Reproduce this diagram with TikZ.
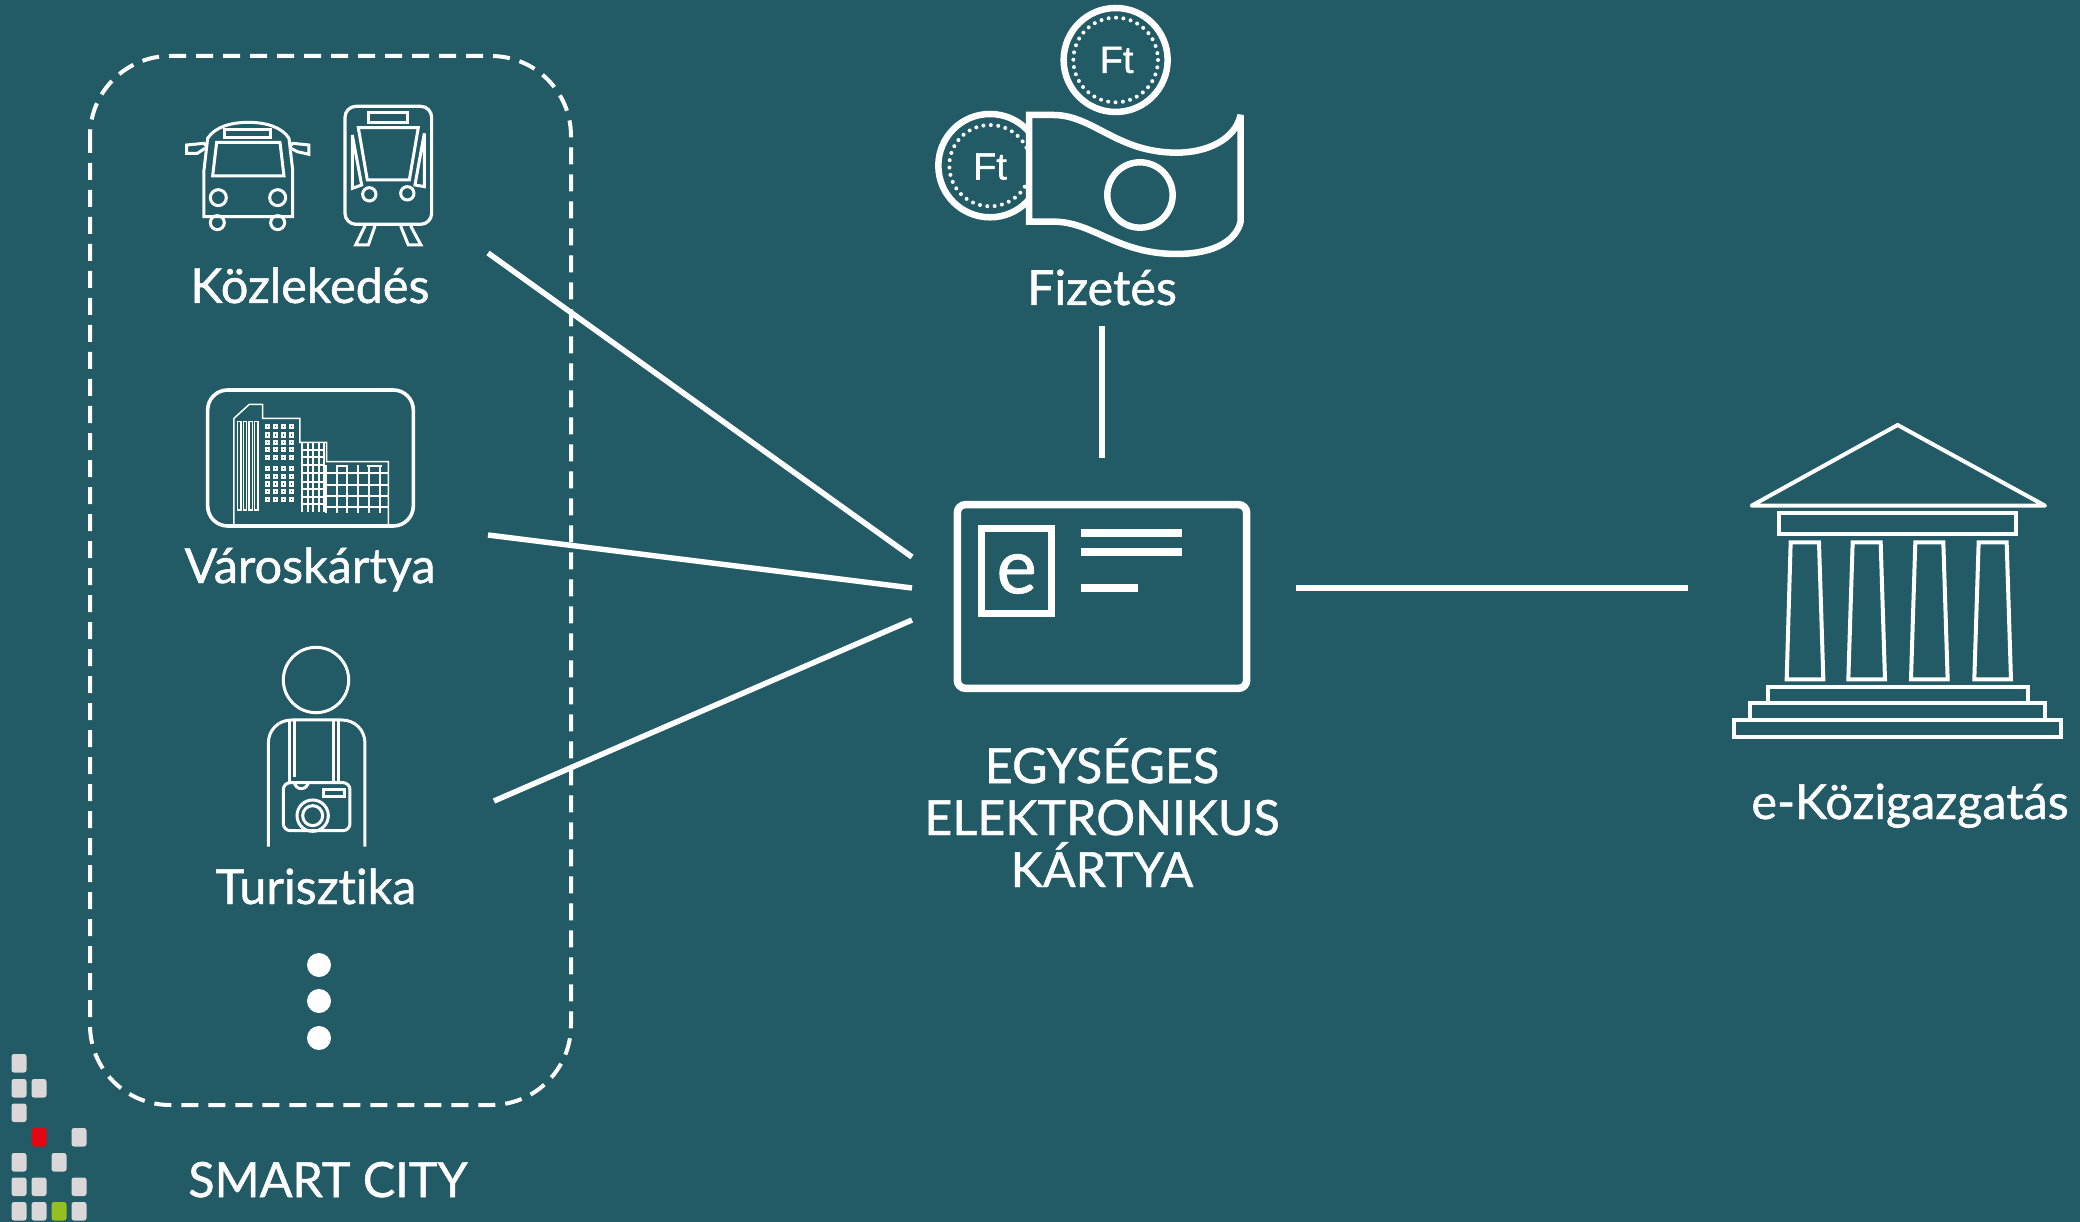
\documentclass[tikz,border=0pt]{standalone}
\usepackage{fontspec}
\setmainfont{Lato}[FakeBold=1,Ligatures=CommonOff]
\newfontfamily\coinfont{Liberation Sans}[FakeBold=1]
\definecolor{bgteal}{RGB}{34,90,102}
\definecolor{logogrey}{RGB}{217,215,215}
\definecolor{logored}{RGB}{227,6,19}
\definecolor{logogreen}{RGB}{149,193,31}
\tikzset{
  linkline/.style={draw=white,line width=5.5pt},
  icon/.style={draw=white,line width=3pt},
  iconthin/.style={draw=white,line width=1.5pt},
  iconthick/.style={draw=white,line width=6.5pt,miter limit=2},
  coindots/.style={draw=white,line width=4pt,dash pattern=on 0pt off 7.4pt,line cap=round},
  label/.style={text=white,anchor=base,font=\fontsize{48.5}{52}\selectfont,align=center,inner sep=0pt},
  cointext/.style={text=white,inner sep=0pt,font=\coinfont\fontsize{38}{38}\selectfont},
  logosq/.style={rounded corners=2.5pt},
}
\begin{document}
\begin{tikzpicture}[x=1pt,y=-1pt]
  \fill[bgteal] (0,0) rectangle (2080,1222);
  \useasboundingbox (0,0) rectangle (2080,1222);

  % smart city frame
  \draw[draw=white,line width=4pt,dash pattern=on 17pt off 10pt,rounded corners=80pt] (90,56) rectangle (571,1105);

  % labels
  \node[label] (kozlekedes) at (310,303) {Közlekedés};
  \node[label] (varoskartya) at (310,583) {Városkártya};
  \node[label] (turisztika) at (316,904) {Turisztika};
  \node[label] (smartcity) at (328,1197) {SMART CITY};
  \node[label] (fizetes) at (1102,305) {Fizetés};
  \node[label] (kartya) at (1102,887) {EGYSÉGES\\ELEKTRONIKUS\\KÁRTYA};
  \node[label] (kozig) at (1910,819) {e-Közigazgatás};

  % connectors
  \coordinate (kozlEnd) at (488,253);
  \coordinate (varosEnd) at (488,535);
  \coordinate (turEnd) at (494,801);
  \coordinate (cardA) at (912,557);
  \coordinate (cardB) at (912,588);
  \coordinate (cardC) at (912,620);
  \coordinate (fizEnd) at (1102,326);
  \coordinate (cardTop) at (1102,458);
  \coordinate (cardRight) at (1296,588);
  \coordinate (templeEnd) at (1688,588);
  \draw[linkline] (kozlEnd) -- (cardA);
  \draw[linkline] (varosEnd) -- (cardB);
  \draw[linkline] (turEnd) -- (cardC);
  \draw[linkline] (fizEnd) -- (cardTop);
  \draw[linkline] (cardRight) -- (templeEnd);

  % dots
  \fill[white] (319,965) circle[radius=12];
  \fill[white] (319,1001) circle[radius=12];
  \fill[white] (319,1038) circle[radius=12];

  % bus and tram
  \begin{scope}[shift={(160,90)},x=0.3333pt,y=-0.3333pt]
    \draw[icon] (132,380) -- (132,240) -- (143,145) .. controls (165,110) and (215,97) .. (265,97) .. controls (315,97) and (365,110) .. (387,145) -- (398,240) -- (398,380) -- cycle;
    \draw[icon] (195,118) rectangle (332,142);
    \draw[icon] (170,157) -- (360,157) -- (372,258) -- (158,258) -- cycle;
    \draw[icon] (175,323) circle[radius=24];
    \draw[icon] (353,323) circle[radius=24];
    \draw[icon] (172,398) circle[radius=21];
    \draw[icon] (353,398) circle[radius=21];
    \draw[icon] (140,170) -- (132,160) -- (80,165) -- (80,190) -- (112,190) -- (135,175);
    \draw[icon] (390,170) -- (398,160) -- (447,165) -- (447,193) -- (412,185) -- (393,175);
    \draw[draw=white,line width=3.2pt,rounded corners=11pt] (555,49) rectangle (815,403);
    \draw[icon] (627,68) rectangle (742,97);
    \draw[icon] (595,113) -- (775,113) -- (748,270) -- (622,270) -- cycle;
    \draw[icon] (577,135) -- (605,285) -- (577,295) -- cycle;
    \draw[icon] (793,130) -- (765,285) -- (793,290) -- cycle;
    \draw[icon] (628,313) circle[radius=20];
    \draw[icon] (742,310) circle[radius=20];
    \draw[icon] (615,408) -- (587,465) -- (625,465) -- (645,408);
    \draw[icon] (722,408) -- (745,465) -- (783,465) -- (752,408);
  \end{scope}

  % city card
  \begin{scope}[shift={(190,370)},x=0.3333pt,y=-0.3333pt]
    \draw[draw=white,line width=3.6pt,rounded corners=20pt] (53,60) rectangle (670,468);
    \draw[iconthin] (132,462) -- (132,145) -- (178,103) -- (218,103) -- (218,145) -- (330,145) -- (330,217) -- (410,217) -- (410,275) -- (595,275) -- (595,462);
    \foreach \sx in {143,160,177,194}
      \draw[iconthin] (\sx,155) rectangle (\sx+10,420);
    \foreach \wx in {232,256,281,305}
      \foreach \wy in {170,195,218,238,263,295,320,342,364,388}
        \draw[draw=white,line width=1.8pt] (\wx-5,\wy-5) rectangle (\wx+5,\wy+5);
    \foreach \mx in {337,353,370,386,403}
      \draw[draw=white,line width=1.9pt] (\mx,217) -- (\mx,425);
    \foreach \my in {240,262,285,310,335,358,380,402}
      \draw[draw=white,line width=1.9pt] (332,\my) -- (405,\my);
    \foreach \rx in {408,440,470,503,537,570}
      \draw[draw=white,line width=2.2pt] (\rx,285) -- (\rx,428);
    \foreach \ry in {310,345,378,410}
      \draw[draw=white,line width=2.2pt] (408,\ry) -- (593,\ry);
    \draw[draw=white,line width=2pt] (437,287) -- (473,287);
    \draw[draw=white,line width=2pt] (530,287) -- (575,287);
  \end{scope}

  % tourist
  \begin{scope}[shift={(250,640)},x=0.3333pt,y=-0.3333pt]
    \draw[icon] (198,120) circle[radius=98];
    \draw[icon] (55,620) -- (55,310) .. controls (55,270) and (85,240) .. (125,240) -- (275,240) .. controls (315,240) and (345,270) .. (345,310) -- (345,620);
    \draw[icon] (120,240) -- (120,425);
    \draw[icon] (135,240) -- (135,410);
    \draw[icon] (250,240) -- (250,425);
    \draw[icon] (265,240) -- (265,425);
    \draw[icon,rounded corners=7pt] (100,428) rectangle (300,572);
    \draw[icon] (133,425) arc[start angle=180,end angle=0,radius=21];
    \draw[icon] (188,527) circle[radius=47];
    \draw[icon] (188,527) circle[radius=30];
    \draw[icon] (222,448) rectangle (283,470);
  \end{scope}

  % coins and note
  \begin{scope}[shift={(920,0)},x=0.3333pt,y=-0.3333pt]
    \draw[iconthick] (587,180) circle[radius=156];
    \draw[coindots] (587,180) circle[radius=127];
    \node[cointext] (ftTop) at (590,180) {Ft};
    \draw[iconthick] (210,497) circle[radius=155];
    \draw[coindots] (210,497) circle[radius=122];
    \node[cointext] (ftLeft) at (210,500) {Ft};
    \draw[iconthick,fill=bgteal] (327,345) -- (400,345) .. controls (520,345) and (590,458) .. (770,458) .. controls (860,458) and (945,420) .. (962,345) -- (962,665) .. controls (945,735) and (860,762) .. (770,762) .. controls (590,762) and (520,665) .. (400,665) -- (327,665) -- cycle;
    \draw[iconthick] (660,585) circle[radius=98];
  \end{scope}

  % e card
  \begin{scope}[shift={(940,490)},x=0.3333pt,y=-0.3333pt]
    \draw[draw=white,line width=7.5pt,rounded corners=8pt] (52,44) rectangle (920,595);
    \draw[draw=white,line width=7.5pt] (125,115) rectangle (335,370);
    \node[text=white,inner sep=0pt,font=\fontsize{76}{76}\selectfont] (eLetter) at (230,252) {e};
    \draw[draw=white,line width=8pt] (422,128) -- (727,128);
    \draw[draw=white,line width=8pt] (422,186) -- (727,186);
    \draw[draw=white,line width=8pt] (422,295) -- (595,295);
  \end{scope}

  % temple
  \begin{scope}[shift={(1720,410)},x=0.3333pt,y=-0.3333pt]
    \draw[draw=white,line width=4pt,line join=round] (533,45) -- (95,287) -- (975,287) -- cycle;
    \draw[draw=white,line width=4pt] (177,310) rectangle (888,373);
    \draw[draw=white,line width=4pt] (212,397) -- (297,397) -- (310,808) -- (200,808) -- cycle;
    \draw[draw=white,line width=4pt] (398,397) -- (482,397) -- (495,808) -- (385,808) -- cycle;
    \draw[draw=white,line width=4pt] (586,397) -- (670,397) -- (683,808) -- (573,808) -- cycle;
    \draw[draw=white,line width=4pt] (776,397) -- (860,397) -- (873,808) -- (763,808) -- cycle;
    \draw[draw=white,line width=4pt] (145,830) rectangle (925,880);
    \draw[draw=white,line width=4pt] (90,880) rectangle (975,931);
    \draw[draw=white,line width=4pt] (42,931) rectangle (1023,982);
  \end{scope}

  % logo
  \fill[logogrey,logosq] (11.5,1054) rectangle (26.5,1072.5);
  \fill[logogrey,logosq] (11.5,1079) rectangle (26.5,1097.5);
  \fill[logogrey,logosq] (31.5,1079) rectangle (46.5,1097.5);
  \fill[logogrey,logosq] (11.5,1103.5) rectangle (26.5,1122);
  \fill[logored,logosq] (31.5,1128) rectangle (46.5,1146.5);
  \fill[logogrey,logosq] (71.5,1128) rectangle (86.5,1146.5);
  \fill[logogrey,logosq] (11.5,1153) rectangle (26.5,1171.5);
  \fill[logogrey,logosq] (51.5,1153) rectangle (66.5,1171.5);
  \fill[logogrey,logosq] (11.5,1177.5) rectangle (26.5,1196);
  \fill[logogrey,logosq] (31.5,1177.5) rectangle (46.5,1196);
  \fill[logogrey,logosq] (71.5,1177.5) rectangle (86.5,1196);
  \fill[logogrey,logosq] (11.5,1202) rectangle (26.5,1220.5);
  \fill[logogrey,logosq] (31.5,1202) rectangle (46.5,1220.5);
  \fill[logogreen,logosq] (51.5,1202) rectangle (66.5,1220.5);
  \fill[logogrey,logosq] (71.5,1202) rectangle (86.5,1220.5);
\end{tikzpicture}
\end{document}
